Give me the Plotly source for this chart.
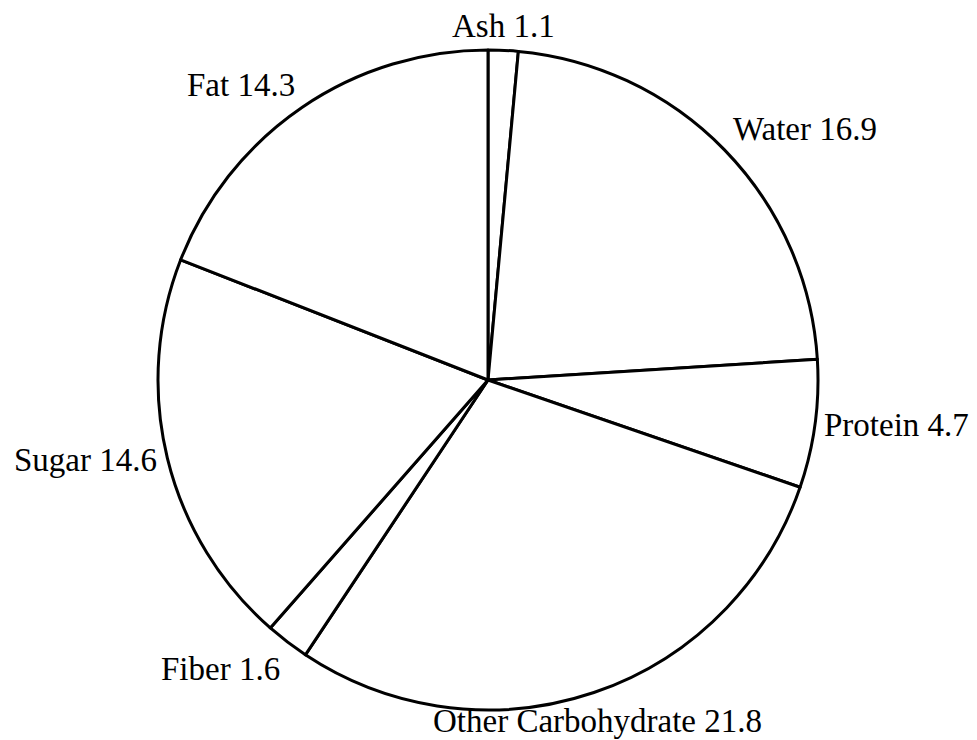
import math
import plotly.graph_objects as go

labels = ["Ash", "Water", "Protein", "Other Carbohydrate", "Fiber", "Sugar", "Fat"]
values = [1.1, 16.9, 4.7, 21.8, 1.6, 14.6, 14.3]

fig = go.Figure(go.Pie(
    labels=labels,
    values=values,
    sort=False,
    direction="clockwise",
    rotation=0,
    marker=dict(colors=["white"] * len(labels), line=dict(color="black", width=3)),
    textinfo="none",
    showlegend=False,
    hoverinfo="label+value",
))

# label placement derived from slice mid-angles
total = sum(values)
cum = 0.0
lab_r = 0.515  # in paper units (pie radius = 0.5)
for lab, v in zip(labels, values):
    mid = (cum + v / 2) / total * 2 * math.pi
    cum += v
    s, c = math.sin(mid), math.cos(mid)
    xa = "center" if abs(s) < 0.35 else ("left" if s > 0 else "right")
    ya = "middle" if abs(c) < 0.4 else ("bottom" if c > 0 else "top")
    fig.add_annotation(
        x=0.5 + lab_r * s, y=0.5 + lab_r * c,
        xref="paper", yref="paper",
        text=f"{lab} {v}", showarrow=False,
        xanchor=xa, yanchor=ya,
        yshift=-5 if ya == "bottom" else 0,
        xshift=-2 if (xa == "left" and ya == "middle") else 0,
        borderpad=0,
        font=dict(family="Liberation Serif, serif", size=33, color="black"),
    )

fig.update_layout(
    width=977, height=740,
    margin=dict(l=150, r=167, t=42, b=38),
    paper_bgcolor="white",
    plot_bgcolor="white",
)

fig.write_html("out.html")
